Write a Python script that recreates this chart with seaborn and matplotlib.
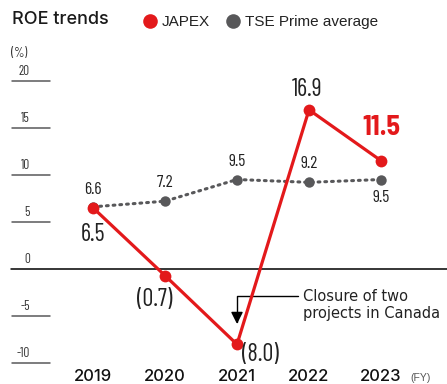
import matplotlib
matplotlib.use("Agg")
import matplotlib.pyplot as plt
from matplotlib import font_manager as fm
from matplotlib.lines import Line2D
import matplotlib.transforms as mtransforms
import seaborn as sns
import pandas as pd

years = [2019, 2020, 2021, 2022, 2023]
japex = [6.5, -0.7, -8.0, 16.9, 11.5]
tse = [6.6, 7.2, 9.5, 9.2, 9.5]
japex_labels = ["6.5", "(0.7)", "(8.0)", "16.9", "11.5"]
tse_labels = ["6.6", "7.2", "9.5", "9.2", "9.5"]
yticks = [20, 15, 10, 5, 0, -5, -10]

RED = "#e3191b"
GRAY = "#58585a"

sns.set_theme(style="white")
ttf = fm.fontManager.ttflist
names = {f.name for f in ttf}


def pick(cands, default="DejaVu Sans"):
    for c in cands:
        if c in names:
            return c
    return default


def pick_medium(cands):
    for c in cands:
        if any(f.name == c and f.weight == 500 for f in ttf):
            return c, 500
    return pick(["Liberation Sans"]), "bold"


SANS = pick(["Liberation Sans", "Arimo"])
NARROW = pick(["Barlow Condensed", "Fira Sans Extra Condensed", "Roboto Condensed", "Archivo Narrow"])
SEMI = pick(["Barlow Semi Condensed", NARROW])
MEDF, MEDW = pick_medium(["Inter", "Roboto", "IBM Plex Sans", "Fira Sans"])
plt.rcParams["font.family"] = [SANS, "DejaVu Sans"]


def nfont(size, weight="normal", fam=None):
    return dict(family=[fam or NARROW, "DejaVu Sans"], fontsize=size, fontweight=weight)


df = pd.DataFrame({"year": years, "JAPEX": japex, "TSE": tse})

fig = plt.figure(figsize=(4.47, 3.84), dpi=100)
ax = fig.add_axes([0, 0, 1, 1])
W, H = 447, 384
ppu = 9.42
y0px = 269
XL = (2019 - 93 / 72, 2019 + (W - 93) / 72)
YL = (-(H - y0px) / ppu, y0px / ppu)

blend = mtransforms.blended_transform_factory(ax.transAxes, ax.transData)
for v in yticks:
    if v == 0:
        ax.plot([11 / W, 1], [0, 0], transform=blend, color="black", lw=1.1, zorder=1)
    else:
        ax.plot([12 / W, 50 / W], [v, v], transform=blend, color=GRAY, lw=1.1, zorder=1)
    ax.text(30 / W, v + 0.3, str(v), transform=blend, ha="right", va="bottom",
            color="#333333", **nfont(9.5))
ax.text(11 / W, 1 - 53 / H, "(%)", transform=ax.transAxes, ha="left", va="center",
        color="#333333", **nfont(9.5))

sns.lineplot(data=df, x="year", y="TSE", ax=ax, color=GRAY, lw=2.2,
             linestyle=(0, (0.6, 1.6)), marker="o", markersize=7.5,
             markeredgewidth=0, zorder=3, dash_capstyle="round")
sns.lineplot(data=df, x="year", y="JAPEX", ax=ax, color=RED, lw=2.3,
             marker="o", markersize=8.5, markeredgewidth=0, zorder=4)
ax.set_xlim(*XL)
ax.set_ylim(*YL)
ax.axis("off")

k = 0.72
j_off = [(0, -27), (-10, -24), (23.5, -10), (-2, 20), (0, 33)]
t_off = [(0, 17), (0, 19), (0, 18.5), (0, 19), (0, -17.5)]
for i, (yr, v, lab) in enumerate(zip(years, japex, japex_labels)):
    dx, dy = j_off[i]
    if i == 4:
        style = dict(color=RED, **nfont(20, "bold", SEMI))
    else:
        style = dict(color="#222222", **nfont(17.5))
    ax.annotate(lab, (yr, v), xytext=(dx * k, dy * k), textcoords="offset points",
                ha="center", va="center", zorder=5, **style)
for i, (yr, v, lab) in enumerate(zip(years, tse, tse_labels)):
    dx, dy = t_off[i]
    ax.annotate(lab, (yr, v), xytext=(dx * k, dy * k), textcoords="offset points",
                ha="center", va="center", color="#222222", zorder=5, **nfont(12.5))

for yr in years:
    ax.text(yr, -(376.5 - y0px) / ppu, str(yr), ha="center", va="center",
            fontsize=12, fontweight=MEDW, color="#111111", family=[MEDF, "DejaVu Sans"])
ax.text(421 / W, 1 - 378 / H, "(FY)", transform=ax.transAxes, ha="center", va="center",
        fontsize=7.5, color="#555555")

ax.annotate("", xy=(2021, -(324 - y0px) / ppu),
            xytext=(2019 + (298 - 93) / 72, -(295.5 - y0px) / ppu),
            arrowprops=dict(arrowstyle="-|>,head_length=0.6,head_width=0.3", color="black", lw=1,
                            connectionstyle="angle,angleA=180,angleB=90,rad=0",
                            shrinkA=0, shrinkB=0), zorder=2)
ax.text(303 / W, 1 - 305 / H, "Closure of two\nprojects in Canada", transform=ax.transAxes,
        ha="left", va="center", fontsize=10.5, color="#222222", linespacing=1.12,
        family="DejaVu Sans")

fig.text(12 / W, 1 - 20 / H, "ROE trends", ha="left", va="center", fontsize=13,
         fontweight=MEDW, color="#1a1a1a", family=[MEDF, "DejaVu Sans"])
handles = [Line2D([], [], ls="none", marker="o", color=RED, markersize=10.5, markeredgewidth=0),
           Line2D([], [], ls="none", marker="o", color=GRAY, markersize=10.5, markeredgewidth=0)]
fig.legend(handles, ["JAPEX", "TSE Prime average"], loc="center left",
           bbox_to_anchor=(142 / W, 1 - 22 / H), ncol=2, frameon=False, fontsize=11,
           handlelength=1.0, handletextpad=0.3, columnspacing=1.0, borderpad=0,
           borderaxespad=0, labelcolor="#222222")

fig.savefig("out.png", dpi=100)
